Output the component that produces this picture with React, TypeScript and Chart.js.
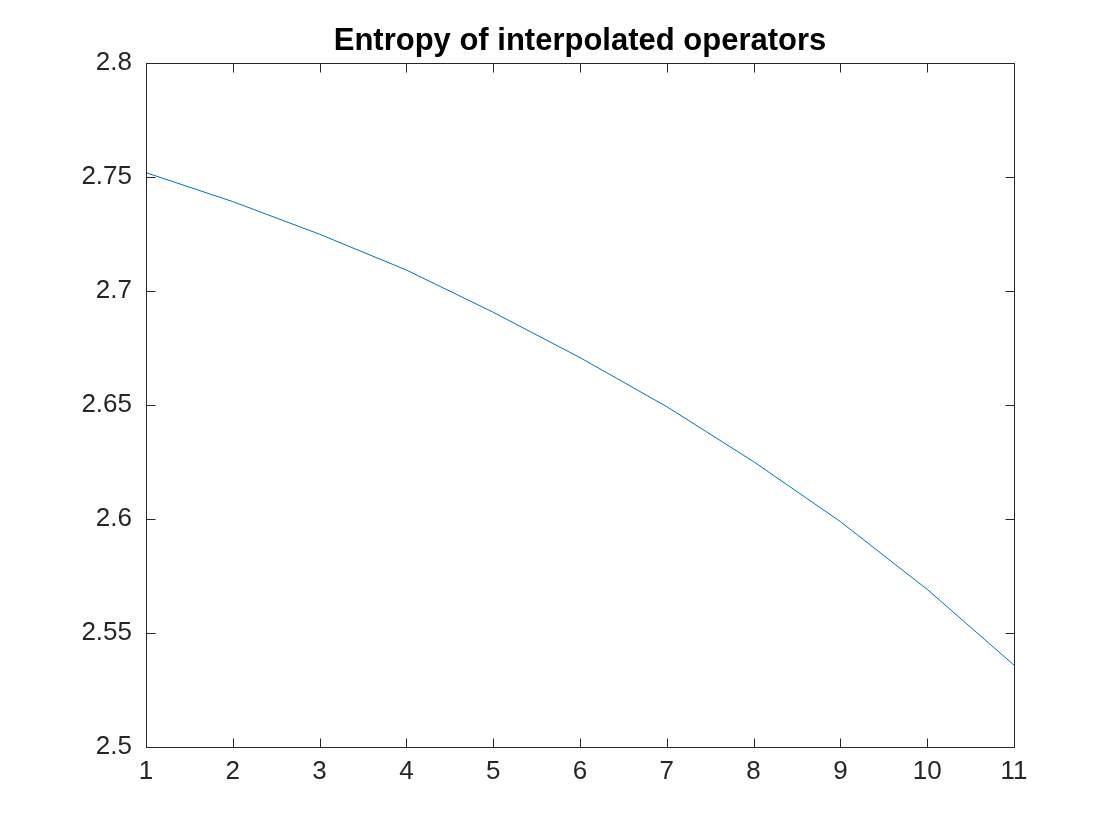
import React, { useEffect, useRef } from "react";
import { Chart, registerables } from "chart.js";

Chart.register(...registerables);

const titleText = "Entropy of interpolated operators";
const xValues = [1, 2, 3, 4, 5, 6, 7, 8, 9, 10, 11];
const entropyValues = [2.7518, 2.7391, 2.7248, 2.7091, 2.6906, 2.6707, 2.6492, 2.6251, 2.5988, 2.5691, 2.5359];
const xMin = 1;
const xMax = 11;
const yMin = 2.5;
const yMax = 2.8;
const yStep = 0.05;

const FONT = '"Liberation Sans", Helvetica, Arial, sans-serif';
const AXIS_COLOR = "#262626";

const boxPlugin = {
  id: "matlabBox",
  afterDatasetsDraw(chart: any) {
    const { ctx, chartArea, scales } = chart;
    const { left, right, top, bottom } = chartArea;
    const tickLen = 9;
    ctx.save();
    ctx.strokeStyle = AXIS_COLOR;
    ctx.lineWidth = 1;
    ctx.beginPath();
    const L = Math.round(left) + 0.5;
    const R = Math.round(right) + 0.5;
    const T = Math.round(top) + 0.5;
    const B = Math.round(bottom) + 0.5;
    ctx.rect(L, T, R - L, B - T);
    scales.x.ticks.forEach((t: any) => {
      const px = Math.round(scales.x.getPixelForValue(t.value)) + 0.5;
      ctx.moveTo(px, B);
      ctx.lineTo(px, B - tickLen);
      ctx.moveTo(px, T);
      ctx.lineTo(px, T + tickLen);
    });
    scales.y.ticks.forEach((t: any) => {
      const py = Math.round(scales.y.getPixelForValue(t.value)) + 0.5;
      ctx.moveTo(L, py);
      ctx.lineTo(L + tickLen, py);
      ctx.moveTo(R, py);
      ctx.lineTo(R - tickLen, py);
    });
    ctx.stroke();
    ctx.restore();
  },
};

export default function App() {
  const canvasRef = useRef<HTMLCanvasElement | null>(null);

  useEffect(() => {
    document.body.style.margin = "0";
    const canvas = canvasRef.current;
    if (!canvas) return;
    const chart = new Chart(canvas, {
      type: "line",
      data: {
        datasets: [
          {
            label: "Entropy",
            data: xValues.map((x, i) => ({ x, y: entropyValues[i] })),
            borderColor: "#0072BD",
            borderWidth: 1,
            pointRadius: 0,
            tension: 0,
            fill: false,
          },
        ],
      },
      options: {
        responsive: false,
        animation: false,
        layout: { padding: { top: 0, right: 106, left: 0, bottom: 0 } },
        plugins: {
          legend: { display: false },
          tooltip: { enabled: false },
          title: {
            display: true,
            text: titleText,
            fullSize: false,
            color: "#000000",
            font: { family: FONT, size: 31, weight: "bold", lineHeight: 1.2 },
            padding: { top: 23, bottom: 2.5 },
          },
        },
        scales: {
          x: {
            type: "linear",
            min: xMin,
            max: xMax,
            grid: { display: false },
            border: { display: false },
            ticks: {
              stepSize: 1,
              color: AXIS_COLOR,
              font: { family: FONT, size: 26 },
              padding: 1,
              maxRotation: 0,
              autoSkip: false,
            },
            afterFit(scale: any) {
              scale.height = 93;
            },
          },
          y: {
            type: "linear",
            min: yMin,
            max: yMax,
            grid: { display: false },
            border: { display: false },
            ticks: {
              stepSize: yStep,
              color: AXIS_COLOR,
              font: { family: FONT, size: 26 },
              padding: 6,
              callback: (v: any) => parseFloat(Number(v).toFixed(2)).toString(),
            },
            afterFit(scale: any) {
              scale.width = 146;
            },
          },
        },
      },
      plugins: [boxPlugin],
    });
    return () => chart.destroy();
  }, []);

  return (
    <div style={{ position: "absolute", left: 0, top: 0, width: 1120, height: 840, background: "#ffffff" }}>
      <canvas ref={canvasRef} width={1120} height={840} style={{ width: 1120, height: 840 }} />
    </div>
  );
}
